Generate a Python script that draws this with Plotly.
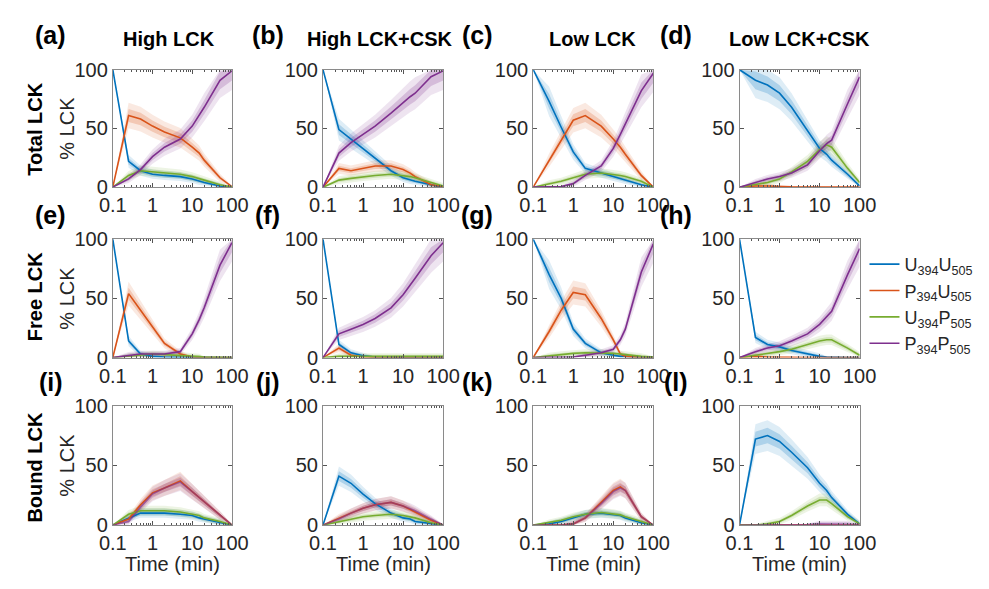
import plotly.graph_objects as go

# ---------------- data ----------------
TIME = [0.1, 0.25, 0.5, 1, 2, 5, 10, 15, 20, 50, 100]
SERIES = ["U<sub>394</sub>U<sub>505</sub>", "P<sub>394</sub>U<sub>505</sub>",
          "U<sub>394</sub>P<sub>505</sub>", "P<sub>394</sub>P<sub>505</sub>"]
COLUMNS = ["High LCK", "High LCK+CSK", "Low LCK", "Low LCK+CSK"]
ROWS = ["Total LCK", "Free LCK", "Bound LCK"]
PANEL_TAGS = ["(a)", "(b)", "(c)", "(d)", "(e)", "(f)", "(g)", "(h)", "(i)", "(j)", "(k)", "(l)"]
XTICKS = [0.1, 1, 10, 100]
XTICKTEXT = ["0.1", "1", "10", "100"]
YTICKS = [0, 50, 100]

# (a) Total, High LCK
a_UU = [100, 22, 14, 11, 10, 9, 7, 5, 4, 1, 0]
a_PU = [0, 61, 58, 52, 47, 42, 34, 29, 23, 8, 0.5]
a_UP = [0, 10, 14, 13, 12, 11, 9, 7, 6, 2, 0]
a_PP = [0, 7, 15, 26, 34, 41, 52, 61, 68, 91, 99]
# (b) Total, High LCK+CSK
b_UU = [100, 49, 41, 33, 25, 14, 8, 6, 5, 2, 0]
b_PU = [0, 16, 14, 16, 18, 18, 15, 12, 9, 2, 0.5]
b_UP = [0, 6, 7.5, 9, 10, 11, 10, 9, 8, 4, 1]
b_PP = [0, 29, 38, 45, 52, 63, 72, 77, 80, 94, 99]
# (c) Total, Low LCK
c_UU = [100, 73, 51, 30, 16, 12, 9, 7, 6, 2, 0]
c_PU = [0, 23, 40, 57, 61, 52, 41, 34, 28, 10, 0]
c_UP = [0, 3, 5, 8, 11, 12, 11, 10, 9, 5, 0]
c_PP = [0, 0, 0.5, 3, 10, 18, 33, 45, 54, 82, 97]
# (d) Total, Low LCK+CSK
d_UU = [100, 91, 87, 80, 68, 48, 33, 28, 23, 11, 1]
d_PU = [0, 1, 1, 0.5, 0.3, 0.2, 0.1, 0.1, 0.1, 0, 0]
d_UP = [0, 2, 4, 7, 13, 22, 32, 36, 34, 16, 4]
d_PP = [0, 4, 7, 9, 12, 19, 31, 37, 40, 71, 94]
# (e) Free, High LCK
e_UU = [100, 14, 3, 1, 0.5, 0.2, 0.1, 0, 0, 0, 0]
e_PU = [0, 54, 40, 26, 12, 3, 0.5, 0.2, 0.1, 0, 0]
e_UP = [0, 1, 2, 3, 2.5, 2, 1, 0.8, 0.5, 0.3, 0.1]
e_PP = [0, 2, 3, 3, 3, 5, 20, 32, 42, 78, 97]
# (f) Free, High LCK+CSK
f_UU = [100, 11, 4, 1.5, 0.5, 0.2, 0.1, 0, 0, 0, 0]
f_PU = [0, 8, 2, 0.5, 0.2, 0, 0, 0, 0, 0, 0]
f_UP = [0, 1, 1, 1, 1, 1, 1, 1, 1, 1, 1]
f_PP = [0, 20, 24, 28, 33, 42, 53, 61, 67, 86, 97]
# (g) Free, Low LCK
g_UU = [100, 70, 50, 24, 12, 4, 2, 1, 1, 0.3, 0]
g_PU = [0, 22, 40, 55, 53, 33, 15, 3, 1, 0, 0]
g_UP = [0, 1.5, 2.5, 3.5, 4, 4, 3.5, 3, 2.5, 1, 0.5]
g_PP = [0, 0, 0, 0.5, 2, 4, 7, 15, 24, 72, 96]
# (h) Free, Low LCK+CSK
h_UU = [100, 17, 11, 9, 6, 3, 1, 0.5, 0.3, 0, 0]
h_PU = [0, 1, 0.5, 0.2, 0.1, 0, 0, 0, 0, 0, 0]
h_UP = [0, 2, 3, 5, 7, 11, 14, 15, 15, 8, 2]
h_PP = [0, 5, 8, 10, 14, 20, 28, 34, 39, 70, 92]
# (i) Bound, High LCK
i_UU = [0, 6, 10, 10, 10, 9, 8, 6, 5, 2, 0]
i_PU = [0, 5, 17, 27, 31, 37, 28, 23, 19, 8, 0]
i_UP = [0, 9, 12, 12, 12, 11, 9, 8, 6, 3, 0]
i_PP = [0, 3, 15, 26, 31, 36, 28, 23, 19, 8, 0]
# (j) Bound, High LCK+CSK
j_UU = [0, 41, 35, 26, 18, 10, 6, 5, 3, 1, 0]
j_PU = [0, 6, 10, 14, 17, 19, 16, 13, 11, 4, 0]
j_UP = [0, 3, 5, 7, 8, 9, 8, 7, 6, 2, 0]
j_PP = [0, 5, 10, 14, 17, 19, 16, 14, 12, 5, 0]
# (k) Bound, Low LCK
k_UU = [0, 1, 3, 6, 9, 10, 9, 8, 6, 2, 0]
k_PU = [0, 0, 0, 1, 6, 19, 29, 32, 29, 7, 0]
k_UP = [0, 2, 4, 7, 9, 10.5, 9.5, 8.5, 7, 3, 0]
k_PP = [0, 0, 0, 1, 6, 18, 28, 31, 29, 7, 0]
# (l) Bound, Low LCK+CSK
l_UU = [0, 72, 75, 70, 61, 48, 35, 29, 23, 9, 1]
l_PU = [0, 0, 0, 0, 0, 0, 0, 0, 0, 0, 0]
l_UP = [0, 0, 1, 3, 8, 16, 21, 21, 18, 7, 1]
l_PP = [0, 0, 0, 0, 0.2, 0.5, 1, 1, 1, 1, 0.5]

PANELS = [
    [a_UU, a_PU, a_UP, a_PP], [b_UU, b_PU, b_UP, b_PP],
    [c_UU, c_PU, c_UP, c_PP], [d_UU, d_PU, d_UP, d_PP],
    [e_UU, e_PU, e_UP, e_PP], [f_UU, f_PU, f_UP, f_PP],
    [g_UU, g_PU, g_UP, g_PP], [h_UU, h_PU, h_UP, h_PP],
    [i_UU, i_PU, i_UP, i_PP], [j_UU, j_PU, j_UP, j_PP],
    [k_UU, k_PU, k_UP, k_PP], [l_UU, l_PU, l_UP, l_PP],
]

# ---------------- style ----------------
W, H = 989, 589
COLORS = ["#0072BD", "#D95319", "#77AC30", "#7E2F8E"]
RGB = [(0, 114, 189), (217, 83, 25), (119, 172, 48), (126, 47, 142)]
COL_X = [(102, 225), (319, 443), (536, 660), (749, 873)]
ROW_Y = [(61, 183), (237, 360), (410, 534)]
FONT = "Liberation Sans, Arial, Helvetica, sans-serif"
TXT = "#262626"


def px_x(x):
    return x / W


def px_y(y):
    return 1 - y / H


def band(vals, k):
    up, lo = [], []
    for idx, v in enumerate(vals):
        if idx == 0:
            h = 0.0
        elif v > 0.5:
            h = (0.07 * v + 1.2) * k
        else:
            h = 0.3 * k
        up.append(min(100, v + h))
        lo.append(max(0, v - h))
    return up, lo


fig = go.Figure()
layout_axes = {}

for p, data in enumerate(PANELS):
    r, c = divmod(p, 4)
    suf = "" if p == 0 else str(p + 1)
    xa, ya = "x" + suf, "y" + suf
    for s, vals in enumerate(data):
        rr, gg, bb = RGB[s]
        for k, alpha in ((2.0, 0.13), (1.0, 0.22)):
            up, lo = band(vals, k)
            fig.add_trace(go.Scatter(
                x=TIME + TIME[::-1], y=up + lo[::-1], xaxis=xa, yaxis=ya,
                fill="toself", fillcolor=f"rgba({rr},{gg},{bb},{alpha})",
                line=dict(width=0), mode="lines", hoverinfo="skip", showlegend=False))
    for s, vals in enumerate(data):
        op = 0.6 if (r == 2 and s == 3) else 1.0
        fig.add_trace(go.Scatter(
            x=TIME, y=vals, xaxis=xa, yaxis=ya, mode="lines",
            line=dict(color=COLORS[s], width=1.6), opacity=op,
            name=SERIES[s], showlegend=(p == 0)))

    x0, x1 = COL_X[c]
    y0, y1 = ROW_Y[r]
    layout_axes["xaxis" + suf] = dict(
        type="log", range=[-1, 2], domain=[px_x(x0), px_x(x1)], anchor=ya,
        tickvals=XTICKS, ticktext=XTICKTEXT, ticks="inside", ticklen=4,
        tickcolor="#555", showline=True, linecolor="#8a8a8a", linewidth=1,
        mirror="ticks", showgrid=False, zeroline=False,
        tickfont=dict(family=FONT, size=20, color=TXT),
        minor=dict(tickvals=[0.2, 0.3, 0.4, 0.5, 0.6, 0.7, 0.8, 0.9,
                             2, 3, 4, 5, 6, 7, 8, 9, 20, 30, 40, 50, 60, 70, 80, 90],
                   ticks="inside", ticklen=2, tickcolor="#555", showgrid=False))
    layout_axes["yaxis" + suf] = dict(
        range=[0, 100], domain=[px_y(y1), px_y(y0)], anchor=xa,
        tickvals=YTICKS, ticks="inside", ticklen=4, tickcolor="#555",
        showline=True, linecolor="#8a8a8a", linewidth=1, mirror="ticks",
        showgrid=False, zeroline=False,
        tickfont=dict(family=FONT, size=20, color=TXT))

annotations = []
tag_x = [38, 262, 478, 683]
tag_y = [25, 212, 385]
for p, tag in enumerate(PANEL_TAGS):
    r, c = divmod(p, 4)
    annotations.append(dict(text=f"<b>{tag}</b>", x=px_x(tag_x[c]), y=px_y(tag_y[r]),
                            xref="paper", yref="paper", showarrow=False,
                            font=dict(family=FONT, size=25, color="black"),
                            xanchor="center", yanchor="middle"))
title_x = [160, 378, 597, 811]
for c, t in enumerate(COLUMNS):
    annotations.append(dict(text=f"<b>{t}</b>", x=px_x(title_x[c]), y=px_y(29),
                            xref="paper", yref="paper", showarrow=False,
                            font=dict(family=FONT, size=20, color="black"),
                            xanchor="center", yanchor="middle"))
row_cy = [122, 297, 474]
for r, t in enumerate(ROWS):
    annotations.append(dict(text=f"<b>{t}</b>", x=px_x(22), y=px_y(row_cy[r]),
                            xref="paper", yref="paper", showarrow=False, textangle=-90,
                            font=dict(family=FONT, size=20, color="black"),
                            xanchor="center", yanchor="middle"))
    annotations.append(dict(text="% LCK", x=px_x(55), y=px_y((ROW_Y[r][0] + ROW_Y[r][1]) / 2),
                            xref="paper", yref="paper", showarrow=False, textangle=-90,
                            font=dict(family=FONT, size=20, color=TXT),
                            xanchor="center", yanchor="middle"))
for c in range(4):
    annotations.append(dict(text="Time (min)", x=px_x((COL_X[c][0] + COL_X[c][1]) / 2),
                            y=px_y(574), xref="paper", yref="paper", showarrow=False,
                            font=dict(family=FONT, size=20, color=TXT),
                            xanchor="center", yanchor="middle"))

fig.update_layout(
    width=W, height=H, margin=dict(l=0, r=0, t=0, b=0),
    paper_bgcolor="white", plot_bgcolor="white",
    annotations=annotations,
    legend=dict(x=px_x(878), y=px_y(244), xanchor="left", yanchor="top",
                font=dict(family=FONT, size=18, color=TXT),
                bgcolor="rgba(0,0,0,0)", tracegroupgap=0, itemwidth=30),
    **layout_axes,
)

fig.write_html("out.html",
               post_script="document.body.style.margin='0';document.body.style.overflow='hidden';")
